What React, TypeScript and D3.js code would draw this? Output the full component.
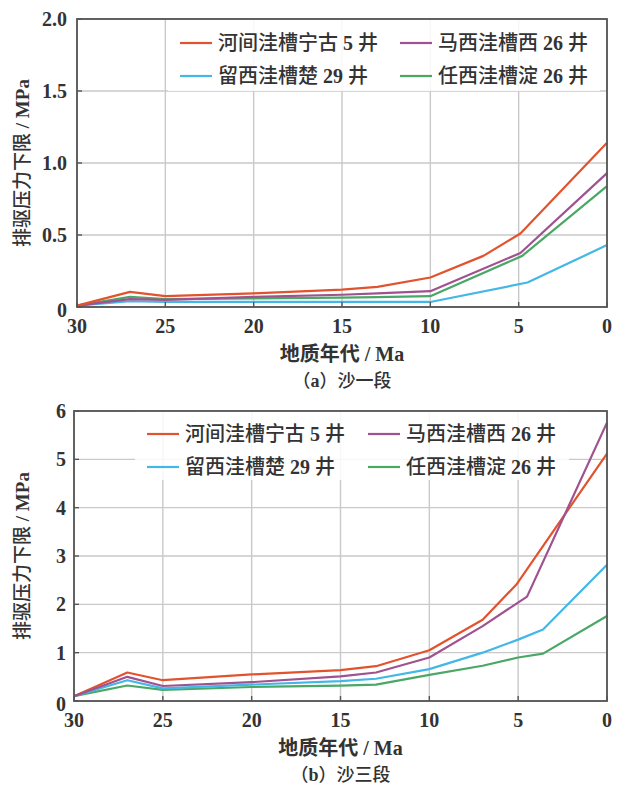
import React from "react";
import * as d3 from "d3";

// Well names (legend order: row 1 left, row 1 right, row 2 left, row 2 right)
const wellNames = ["河间洼槽宁古 5 井", "马西洼槽西 26 井", "留西洼槽楚 29 井", "任西洼槽淀 26 井"];
const wellColors = ["#e2532d", "#a0518f", "#43b7e6", "#4aa866"];

// (a) 沙一段 — age (Ma) and lower limit of displacement pressure (MPa)
const s1AgesRed = [30, 27, 25, 20, 15, 13, 10, 7, 4.9, 0];
const s1Red = [0.01, 0.105, 0.075, 0.095, 0.12, 0.14, 0.205, 0.355, 0.51, 1.14];
const s1AgesPurple = [30, 27, 25, 20, 15, 13, 10, 4.9, 0];
const s1Purple = [0.01, 0.055, 0.05, 0.07, 0.085, 0.095, 0.11, 0.375, 0.93];
const s1AgesBlue = [30, 27, 25, 20, 15, 13, 10, 4.5, 0];
const s1Blue = [0.01, 0.04, 0.035, 0.035, 0.035, 0.035, 0.035, 0.17, 0.43];
const s1AgesGreen = [30, 27, 25, 20, 15, 13, 10, 4.8, 0];
const s1Green = [0.01, 0.07, 0.055, 0.06, 0.065, 0.068, 0.075, 0.355, 0.84];

// (b) 沙三段
const s3AgesRed = [30, 27, 25, 20, 15, 13, 10, 7, 5.1, 0];
const s3Red = [0.1, 0.59, 0.43, 0.55, 0.64, 0.72, 1.05, 1.68, 2.41, 5.12];
const s3AgesPurple = [30, 27, 25, 20, 15, 13, 10, 7, 4.5, 0];
const s3Purple = [0.1, 0.5, 0.31, 0.39, 0.51, 0.59, 0.9, 1.55, 2.16, 5.76];
const s3AgesBlue = [30, 27, 25, 20, 15, 13, 10, 7, 5, 3.6, 0];
const s3Blue = [0.1, 0.43, 0.26, 0.34, 0.41, 0.46, 0.66, 1.0, 1.27, 1.48, 2.82];
const s3AgesGreen = [30, 27, 25, 20, 15, 13, 10, 7, 5, 3.6, 0];
const s3Green = [0.1, 0.32, 0.23, 0.29, 0.32, 0.34, 0.54, 0.73, 0.9, 0.98, 1.76];

const xTicks = [30, 25, 20, 15, 10, 5, 0];
const s1YTicks = [0, 0.5, 1.0, 1.5, 2.0];
const s1YLabels = ["0", "0.5", "1.0", "1.5", "2.0"];
const s3YTicks = [0, 1, 2, 3, 4, 5, 6];
const s3YLabels = ["0", "1", "2", "3", "4", "5", "6"];

const xTitle = "地质年代 / Ma";
const yTitle = "排驱压力下限 / MPa";

const FONT = "'Liberation Serif', 'Noto Sans CJK SC', serif";
const CJK = "'Noto Sans CJK SC', sans-serif";

// Latin runs (digits, units) are set in bold serif, CJK runs in sans.
function mixed(text: string, cjkWeight: number | string) {
  const parts = text.split(/([0-9A-Za-z\/ ]+)/).filter((s) => s.length > 0);
  return parts.map((s, i) =>
    /[0-9A-Za-z\/]/.test(s) || /^ +$/.test(s) ? (
      <tspan key={i} fontFamily={FONT} fontWeight="bold">
        {s}
      </tspan>
    ) : (
      <tspan key={i} fontFamily={CJK} fontWeight={cjkWeight}>
        {s}
      </tspan>
    )
  );
}

type Series = { ages: number[]; values: number[]; color: string };

type PanelProps = {
  left: number;
  right: number;
  top: number;
  bottom: number;
  yMax: number;
  yTicks: number[];
  yLabels: string[];
  series: Series[];
  caption: string;
  legend: { x: number; y: number; w: number; h: number; col2: number; row: number };
  labelGap: number;
};

function Panel(p: PanelProps) {
  const x = d3.scaleLinear().domain([30, 0]).range([p.left, p.right]);
  const y = d3.scaleLinear().domain([0, p.yMax]).range([p.bottom, p.top]);
  const line = d3
    .line<[number, number]>()
    .x((d) => x(d[0]))
    .y((d) => y(d[1]));
  const cx = (p.left + p.right) / 2;
  const cy = (p.top + p.bottom) / 2;
  const lg = p.legend;
  return (
    <g>
      {/* grid */}
      {xTicks.map((t) => (
        <line key={"gx" + t} x1={x(t)} x2={x(t)} y1={p.top} y2={p.bottom} stroke="#c9c9c9" strokeWidth={1.4} />
      ))}
      {p.yTicks.map((t) => (
        <line key={"gy" + t} x1={p.left} x2={p.right} y1={y(t)} y2={y(t)} stroke="#c9c9c9" strokeWidth={1.4} />
      ))}
      {/* series */}
      {p.series.map((s, i) => (
        <path
          key={"s" + i}
          d={line(s.ages.map((a, j) => [a, s.values[j]] as [number, number])) || ""}
          fill="none"
          stroke={s.color}
          strokeWidth={2.2}
          strokeLinejoin="round"
        />
      ))}
      {/* legend */}
      <rect x={lg.x} y={lg.y} width={lg.w} height={lg.h} fill="#ffffff" fillOpacity={0.85} />
      {wellNames.map((name, i) => {
        const col = i % 2;
        const row = Math.floor(i / 2);
        const lx = lg.x + 12 + col * lg.col2;
        const ly = lg.y + 23 + row * lg.row;
        return (
          <g key={"lg" + i}>
            <line x1={lx} x2={lx + 32} y1={ly} y2={ly} stroke={wellColors[i]} strokeWidth={2.2} />
            <text x={lx + 38} y={ly} dy="0.36em" fontSize={20} fill="#333">
              {mixed(name, 500)}
            </text>
          </g>
        );
      })}
      {/* ticks */}
      {xTicks.map((t) => (
        <line key={"tx" + t} x1={x(t)} x2={x(t)} y1={p.bottom} y2={p.bottom - 5} stroke="#555" strokeWidth={1.4} />
      ))}
      {p.yTicks.map((t) => (
        <line key={"ty" + t} x1={p.left} x2={p.left + 5} y1={y(t)} y2={y(t)} stroke="#555" strokeWidth={1.4} />
      ))}
      {/* frame */}
      <rect x={p.left} y={p.top} width={p.right - p.left} height={p.bottom - p.top} fill="none" stroke="#555" strokeWidth={1.8} />
      {/* tick labels */}
      {xTicks.map((t) => (
        <text key={"lx" + t} x={x(t)} y={p.bottom + 26} textAnchor="middle" fontSize={20} fontWeight="bold" fontFamily={FONT} fill="#333">
          {t}
        </text>
      ))}
      {p.yTicks.map((t, i) => (
        <text key={"ly" + t} x={p.left - p.labelGap} y={y(t)} dy={t === 0 ? "0.5em" : "0.35em"} textAnchor="end" fontSize={20} fontWeight="bold" fontFamily={FONT} fill="#333">
          {p.yLabels[i]}
        </text>
      ))}
      {/* titles */}
      <text x={cx} y={p.bottom + 54} textAnchor="middle" fontSize={20} fill="#333">
        {mixed(xTitle, "bold")}
      </text>
      <text x={cx} y={p.bottom + 80} textAnchor="middle" fontSize={18} fill="#333">
        {mixed(p.caption, 500)}
      </text>
      <text transform={`translate(29,${cy}) rotate(-90)`} textAnchor="middle" fontSize={19} fill="#333">
        {mixed(yTitle, 500)}
      </text>
    </g>
  );
}

export default function App() {
  const s1: Series[] = [
    { ages: s1AgesBlue, values: s1Blue, color: wellColors[2] },
    { ages: s1AgesGreen, values: s1Green, color: wellColors[3] },
    { ages: s1AgesPurple, values: s1Purple, color: wellColors[1] },
    { ages: s1AgesRed, values: s1Red, color: wellColors[0] },
  ];
  const s3: Series[] = [
    { ages: s3AgesGreen, values: s3Green, color: wellColors[3] },
    { ages: s3AgesBlue, values: s3Blue, color: wellColors[2] },
    { ages: s3AgesRed, values: s3Red, color: wellColors[0] },
    { ages: s3AgesPurple, values: s3Purple, color: wellColors[1] },
  ];
  return (
    <svg width={624} height={787} style={{ position: "absolute", left: 0, top: 0, background: "#fff" }}>
      <Panel
        left={77}
        right={607}
        top={19}
        bottom={307}
        yMax={2}
        yTicks={s1YTicks}
        yLabels={s1YLabels}
        series={s1}
        caption="（a）沙一段"
        legend={{ x: 168, y: 20, w: 432, h: 71, col2: 220, row: 33 }}
        labelGap={10}
      />
      <Panel
        left={74}
        right={607}
        top={411}
        bottom={701}
        yMax={6}
        yTicks={s3YTicks}
        yLabels={s3YLabels}
        series={s3}
        caption="（b）沙三段"
        legend={{ x: 135, y: 411, w: 434, h: 69, col2: 221, row: 33 }}
        labelGap={8}
      />
    </svg>
  );
}
